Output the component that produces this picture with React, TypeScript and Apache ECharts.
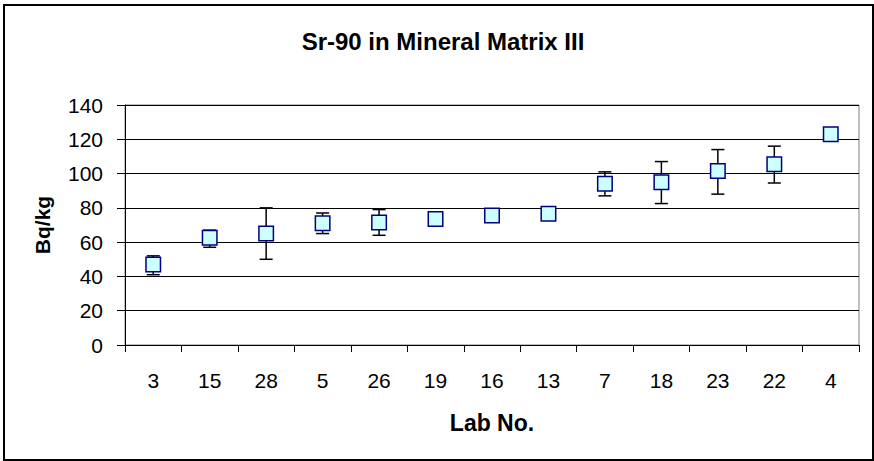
import React, { useEffect, useRef } from "react";
import * as echarts from "echarts";

const labs = ["3", "15", "28", "5", "26", "19", "16", "13", "7", "18", "23", "22", "4"];
const values = [47, 62.5, 65, 71, 71.5, 73.5, 75.5, 76.5, 94, 95, 101.5, 105.5, 123];
const lower = [41, 57, 50, 65, 64, null, null, null, 87, 82.5, 88, 94.5, null];
const upper = [52, 67, 80, 77, 79, null, null, null, 101, 107, 114, 116, null];

const FONT = "'Liberation Sans', Arial, sans-serif";

export default function App() {
  const ref = useRef<HTMLDivElement>(null);
  useEffect(() => {
    if (!ref.current) return;
    const chart = echarts.init(ref.current, null, { renderer: "svg" });
    const errData = labs
      .map((_, i) => (lower[i] != null && upper[i] != null ? [i, lower[i], upper[i]] : null))
      .filter((d) => d !== null);
    chart.setOption({
      animation: false,
      backgroundColor: "#ffffff",
      textStyle: { fontFamily: FONT },
      title: {
        text: "Sr-90 in Mineral Matrix III",
        left: 438,
        top: 24,
        textAlign: "center",
        textStyle: { fontFamily: FONT, fontSize: 24, fontWeight: "bold", color: "#000" },
      },
      grid: { left: 125, top: 105, width: 734, height: 240 },
      xAxis: {
        type: "category",
        data: labs,
        boundaryGap: true,
        name: "Lab No.",
        nameLocation: "middle",
        nameGap: 66,
        nameTextStyle: { fontFamily: FONT, fontSize: 23, fontWeight: "bold", color: "#000" },
        axisLine: { lineStyle: { color: "#000", width: 1 } },
        axisTick: { show: true, length: 7, alignWithLabel: false, lineStyle: { color: "#000" } },
        axisLabel: { fontFamily: FONT, fontSize: 21, color: "#000", margin: 25, interval: 0 },
        splitLine: { show: false },
      },
      yAxis: {
        type: "value",
        min: 0,
        max: 140,
        interval: 20,
        name: "Bq/kg",
        nameLocation: "middle",
        nameGap: 72,
        nameRotate: 90,
        nameTextStyle: { fontFamily: FONT, fontSize: 21, fontWeight: "bold", color: "#000" },
        axisLine: { show: true, lineStyle: { color: "#000", width: 1 } },
        axisTick: { show: true, length: 8, inside: false, lineStyle: { color: "#000" } },
        axisLabel: { fontFamily: FONT, fontSize: 21, color: "#000", margin: 22 },
        splitLine: { show: true, lineStyle: { color: "#000", width: 1 } },
      },
      graphic: [
        {
          type: "rect",
          shape: { x: 125, y: 105, width: 734, height: 240 },
          style: { fill: "none", stroke: "#808080", lineWidth: 1 },
          z: 0,
          silent: true,
        },
        {
          type: "rect",
          shape: { x: 4, y: 5, width: 869, height: 455 },
          style: { fill: "none", stroke: "#000", lineWidth: 2 },
          silent: true,
        },
      ],
      series: [
        {
          type: "custom",
          z: 2,
          data: errData,
          renderItem: (params: any, api: any) => {
            const x = api.value(0);
            const lo = api.coord([x, api.value(1)]);
            const hi = api.coord([x, api.value(2)]);
            const hw = 6.5;
            const st = { stroke: "#000", lineWidth: 1.5 };
            return {
              type: "group",
              children: [
                { type: "line", shape: { x1: lo[0], y1: lo[1], x2: hi[0], y2: hi[1] }, style: st },
                { type: "line", shape: { x1: lo[0] - hw, y1: lo[1], x2: lo[0] + hw, y2: lo[1] }, style: st },
                { type: "line", shape: { x1: hi[0] - hw, y1: hi[1], x2: hi[0] + hw, y2: hi[1] }, style: st },
              ],
            };
          },
        },
        {
          type: "scatter",
          z: 3,
          data: values,
          symbol: "rect",
          symbolSize: 14.5,
          itemStyle: { color: "#CCFFFF", borderColor: "#000080", borderWidth: 1.5, opacity: 1 },
        },
      ],
    });
    return () => chart.dispose();
  }, []);
  return (
    <div
      ref={ref}
      style={{ position: "fixed", left: 0, top: 0, width: 874, height: 461 }}
    />
  );
}
